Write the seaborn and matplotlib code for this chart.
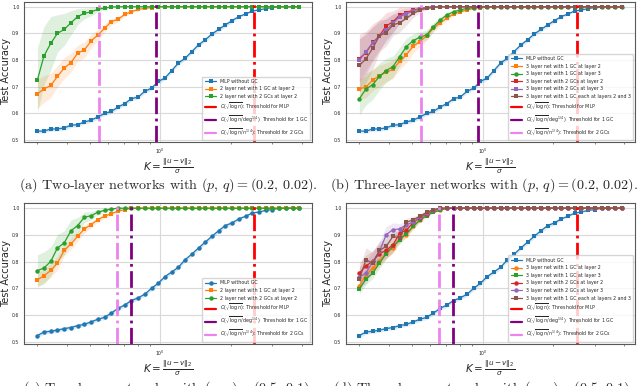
import matplotlib
matplotlib.use("Agg")
from matplotlib import pyplot as plt
from matplotlib.lines import Line2D
from matplotlib.ticker import NullFormatter, MultipleLocator
import seaborn as sns

# K = ||u - v||_2 / sigma (log-spaced grid)
K = [0.300, 0.320, 0.342, 0.365, 0.390, 0.417, 0.445, 0.475, 0.508, 0.542,
     0.579, 0.619, 0.661, 0.705, 0.753, 0.805, 0.859, 0.918, 0.980, 1.047,
     1.118, 1.194, 1.275, 1.362, 1.454, 1.553, 1.659, 1.772, 1.892, 2.021,
     2.158, 2.305, 2.461, 2.629, 2.807, 2.998, 3.202, 3.420, 3.652, 3.900]

# (p, q) = (0.2, 0.02)
mlp_02 = [0.534, 0.534, 0.542, 0.542, 0.546, 0.556, 0.558, 0.568, 0.575, 0.587,
          0.600, 0.608, 0.624, 0.637, 0.655, 0.662, 0.683, 0.695, 0.720, 0.733,
          0.761, 0.789, 0.807, 0.832, 0.857, 0.876, 0.898, 0.915, 0.932, 0.948,
          0.963, 0.973, 0.984, 0.988, 0.993, 0.997, 1.0, 1.0, 1.0, 1.0]
mlp_02_sd = [0.008] * 30 + [0.005, 0.004, 0.003, 0.002, 0.002, 0.001]

a_1gc = [0.674, 0.692, 0.705, 0.739, 0.770, 0.791, 0.826, 0.838, 0.872, 0.894,
         0.919, 0.944, 0.953, 0.971, 0.981, 0.990, 0.994, 0.997]
a_1gc_sd = [0.055, 0.05, 0.045, 0.04, 0.04, 0.035, 0.03, 0.03, 0.025, 0.02,
            0.015, 0.012, 0.01, 0.008, 0.006, 0.004, 0.003, 0.002]
a_2gc = [0.726, 0.816, 0.863, 0.900, 0.915, 0.940, 0.963, 0.975, 0.981, 0.990,
         0.995, 0.999]
a_2gc_sd = [0.12, 0.11, 0.10, 0.07, 0.06, 0.045, 0.03, 0.02, 0.015, 0.01,
            0.006, 0.003]

b_1gc_l2 = [0.692, 0.699, 0.726, 0.741, 0.754, 0.766, 0.795, 0.820, 0.853, 0.869,
            0.891, 0.919, 0.940, 0.956, 0.973, 0.981, 0.988, 0.994, 0.997]
b_1gc_l2_sd = [0.04, 0.04, 0.04, 0.04, 0.035, 0.035, 0.03, 0.03, 0.025, 0.02,
               0.018, 0.015, 0.012, 0.01, 0.007, 0.005, 0.004, 0.003, 0.002]
b_1gc_l3 = [0.655, 0.692, 0.708, 0.739, 0.761, 0.776, 0.813, 0.851, 0.873, 0.886,
            0.894, 0.925, 0.950, 0.969, 0.981, 0.988, 0.994, 0.997]
b_1gc_l3_sd = [0.06, 0.06, 0.055, 0.05, 0.045, 0.04, 0.035, 0.03, 0.025, 0.02,
               0.018, 0.015, 0.012, 0.01, 0.007, 0.005, 0.003, 0.002]
b_2gc_l2 = [0.806, 0.828, 0.866, 0.891, 0.928, 0.944, 0.969, 0.978, 0.988, 0.993,
            0.997]
b_2gc_l2_sd = [0.09, 0.08, 0.07, 0.06, 0.05, 0.04, 0.03, 0.02, 0.012, 0.008, 0.004]
b_2gc_l3 = [0.799, 0.832, 0.863, 0.891, 0.913, 0.938, 0.963, 0.973, 0.985, 0.991,
            0.997]
b_2gc_l3_sd = [0.08, 0.07, 0.06, 0.05, 0.045, 0.035, 0.025, 0.02, 0.012, 0.008, 0.004]
b_each = [0.780, 0.805, 0.845, 0.891, 0.903, 0.932, 0.940, 0.956, 0.975, 0.988,
          0.994, 0.997]
b_each_sd = [0.10, 0.09, 0.08, 0.06, 0.05, 0.04, 0.035, 0.025, 0.015, 0.01,
             0.006, 0.003]

# (p, q) = (0.5, 0.1)
mlp_05 = [0.523, 0.536, 0.539, 0.543, 0.549, 0.553, 0.560, 0.565, 0.574, 0.584,
          0.591, 0.607, 0.625, 0.637, 0.654, 0.664, 0.678, 0.700, 0.719, 0.744,
          0.761, 0.779, 0.807, 0.828, 0.851, 0.873, 0.895, 0.916, 0.935, 0.945,
          0.960, 0.970, 0.982, 0.986, 0.992, 0.995, 1.0, 1.0, 1.0, 1.0]
mlp_05_sd = [0.008] * 30 + [0.005, 0.004, 0.003, 0.002, 0.002, 0.001]

c_1gc = [0.732, 0.747, 0.767, 0.794, 0.842, 0.866, 0.895, 0.922, 0.939, 0.957,
         0.970, 0.980, 0.989, 0.995]
c_1gc_sd = [0.025, 0.025, 0.025, 0.025, 0.02, 0.02, 0.018, 0.015, 0.012, 0.01,
            0.008, 0.006, 0.004, 0.002]
c_2gc = [0.766, 0.776, 0.801, 0.851, 0.870, 0.916, 0.935, 0.966, 0.972, 0.985,
         0.992, 0.997]
c_2gc_sd = [0.06, 0.06, 0.055, 0.05, 0.045, 0.04, 0.03, 0.02, 0.015, 0.01,
            0.006, 0.003]

d_1gc_l2 = [0.709, 0.751, 0.776, 0.801, 0.832, 0.851, 0.888, 0.901, 0.932, 0.957,
            0.976, 0.989, 0.995]
d_1gc_l2_sd = [0.02, 0.02, 0.02, 0.02, 0.02, 0.018, 0.015, 0.012, 0.01, 0.008,
               0.005, 0.003, 0.002]
d_1gc_l3 = [0.698, 0.734, 0.757, 0.794, 0.830, 0.857, 0.882, 0.905, 0.932, 0.955,
            0.972, 0.985, 0.992]
d_1gc_l3_sd = [0.02, 0.02, 0.02, 0.02, 0.02, 0.018, 0.015, 0.012, 0.01, 0.008,
               0.005, 0.003, 0.002]
d_2gc_l2 = [0.757, 0.784, 0.801, 0.830, 0.842, 0.863, 0.907, 0.917, 0.947, 0.964,
            0.980, 0.992]
d_2gc_l2_sd = [0.04, 0.04, 0.04, 0.035, 0.03, 0.03, 0.025, 0.02, 0.015, 0.01,
               0.006, 0.003]
d_2gc_l3 = [0.742, 0.757, 0.801, 0.838, 0.901, 0.920, 0.922, 0.939, 0.947, 0.967,
            0.982, 0.992]
d_2gc_l3_sd = [0.04, 0.04, 0.04, 0.035, 0.03, 0.025, 0.02, 0.015, 0.012, 0.008,
               0.005, 0.003]
d_each = [0.734, 0.807, 0.794, 0.842, 0.857, 0.895, 0.888, 0.947, 0.957, 0.970,
          0.985, 0.995]
d_each_sd = [0.04, 0.045, 0.04, 0.035, 0.03, 0.025, 0.02, 0.015, 0.012, 0.008,
             0.005, 0.003]

# thresholds (K values of the vertical lines)
thr_mlp = 2.51
thr_1gc_02, thr_2gc_02 = 0.957, 0.55
thr_1gc_05, thr_2gc_05 = 0.747, 0.656

lbl_mlp = "MLP without GC"
thr_labels = [r"$O(\sqrt{\log n})$: Threshold for MLP",
              r"$O(\sqrt{\log n}/\mathrm{deg}^{1/4})$: Threshold for 1 GC",
              r"$O(\sqrt{\log n}/n^{1/4})$: Threshold for 2 GCs"]
thr_colors = ["red", "purple", "violet"]
captions = [r"(a) Two-layer networks with $(p,\, q) = (0.2,\, 0.02)$.",
            r"(b) Three-layer networks with $(p,\, q) = (0.2,\, 0.02)$.",
            r"(c) Two-layer networks with $(p,\, q) = (0.5,\, 0.1)$.",
            r"(d) Three-layer networks with $(p,\, q) = (0.5,\, 0.1)$."]

C = sns.color_palette("tab10")


def pad(vals, fill):
    return list(vals) + [fill] * (len(K) - len(vals))


panels = [
    ([(lbl_mlp, mlp_02, mlp_02_sd, C[0], "s"),
      ("2 layer net with 1 GC at layer 2", a_1gc, a_1gc_sd, C[1], "s"),
      ("2 layer net with 2 GCs at layer 2", a_2gc, a_2gc_sd, C[2], "s")],
     (thr_1gc_02, thr_2gc_02)),
    ([(lbl_mlp, mlp_02, mlp_02_sd, C[0], "s"),
      ("3 layer net with 1 GC at layer 2", b_1gc_l2, b_1gc_l2_sd, C[1], "s"),
      ("3 layer net with 1 GC at layer 3", b_1gc_l3, b_1gc_l3_sd, C[2], "o"),
      ("3 layer net with 2 GCs at layer 2", b_2gc_l2, b_2gc_l2_sd, C[3], "s"),
      ("3 layer net with 2 GCs at layer 3", b_2gc_l3, b_2gc_l3_sd, C[4], "s"),
      ("3 layer net with 1 GC each at layers 2 and 3", b_each, b_each_sd, C[5], "s")],
     (thr_1gc_02, thr_2gc_02)),
    ([(lbl_mlp, mlp_05, mlp_05_sd, C[0], "o"),
      ("2 layer net with 1 GC at layer 2", c_1gc, c_1gc_sd, C[1], "s"),
      ("2 layer net with 2 GCs at layer 2", c_2gc, c_2gc_sd, C[2], "o")],
     (thr_1gc_05, thr_2gc_05)),
    ([(lbl_mlp, mlp_05, mlp_05_sd, C[0], "s"),
      ("3 layer net with 1 GC at layer 2", d_1gc_l2, d_1gc_l2_sd, C[1], "o"),
      ("3 layer net with 1 GC at layer 3", d_1gc_l3, d_1gc_l3_sd, C[2], "s"),
      ("3 layer net with 2 GCs at layer 2", d_2gc_l2, d_2gc_l2_sd, C[3], "o"),
      ("3 layer net with 2 GCs at layer 3", d_2gc_l3, d_2gc_l3_sd, C[4], "o"),
      ("3 layer net with 1 GC each at layers 2 and 3", d_each, d_each_sd, C[5], "s")],
     (thr_1gc_05, thr_2gc_05)),
]

sns.set_style("whitegrid", {"axes.edgecolor": "0.35", "grid.color": "0.85"})
plt.rcParams["font.family"] = ["DejaVu Sans"]

fig = plt.figure(figsize=(6.4, 3.86), dpi=100)
rects = [(0.038, 0.632, 0.450, 0.363), (0.541, 0.632, 0.451, 0.363),
         (0.038, 0.110, 0.450, 0.363), (0.541, 0.110, 0.451, 0.363)]
cap_x = [0.2625, 0.756, 0.2625, 0.756]
cap_y = [0.521, 0.521, -0.006, -0.006]
dashdot = (0, (6, 1.6, 1, 1.6))

for i, (series, (t1, t2)) in enumerate(panels):
    ax = fig.add_axes(rects[i])
    ax.set_xscale("log")
    for label, mean, sd, col, mk in series:
        m = pad(mean, 1.0)
        s = pad(sd, 0.0)
        lo = [a - b for a, b in zip(m, s)]
        hi = [a + b for a, b in zip(m, s)]
        ax.fill_between(K, lo, hi, color=col, alpha=0.15, linewidth=0)
        sns.lineplot(x=K, y=m, ax=ax, color=col, marker=mk, markersize=3.2,
                     markeredgewidth=0, linewidth=0.9, label=label)
    for xv, col in zip([thr_mlp, t1, t2], thr_colors):
        ax.axvline(xv, color=col, linestyle=dashdot, linewidth=2.0)

    ax.set_ylim(0.493, 1.018)
    ax.yaxis.set_major_locator(MultipleLocator(0.1))
    ax.xaxis.set_minor_formatter(NullFormatter())
    ax.grid(True, which="major", linewidth=0.8)
    ax.tick_params(axis="both", which="major", labelsize=3.3, length=2, width=0.5, pad=1.5)
    ax.tick_params(axis="x", which="minor", length=1.3, width=0.4, bottom=True)
    for sp in ax.spines.values():
        sp.set_linewidth(0.8)
    ax.set_ylabel("Test Accuracy", fontsize=7.0, labelpad=1.0)
    ax.set_xlabel(r"$K = \frac{\|u - v\|_2}{\sigma}$", fontsize=7.5, labelpad=0.5)

    handles, labels = ax.get_legend_handles_labels()
    handles += [Line2D([], [], color=c, linewidth=1.6) for c in thr_colors]
    labels += thr_labels
    ax.legend(handles, labels, loc="lower right", fontsize=3.4, handlelength=2.5,
              labelspacing=0.55, borderpad=0.5, handletextpad=0.7,
              borderaxespad=0.4, frameon=True)
    fig.text(cap_x[i], cap_y[i], captions[i], ha="center", va="center",
             fontsize=10.2, family="cmr10", math_fontfamily="cm")

fig.savefig("out.png", dpi=100)
